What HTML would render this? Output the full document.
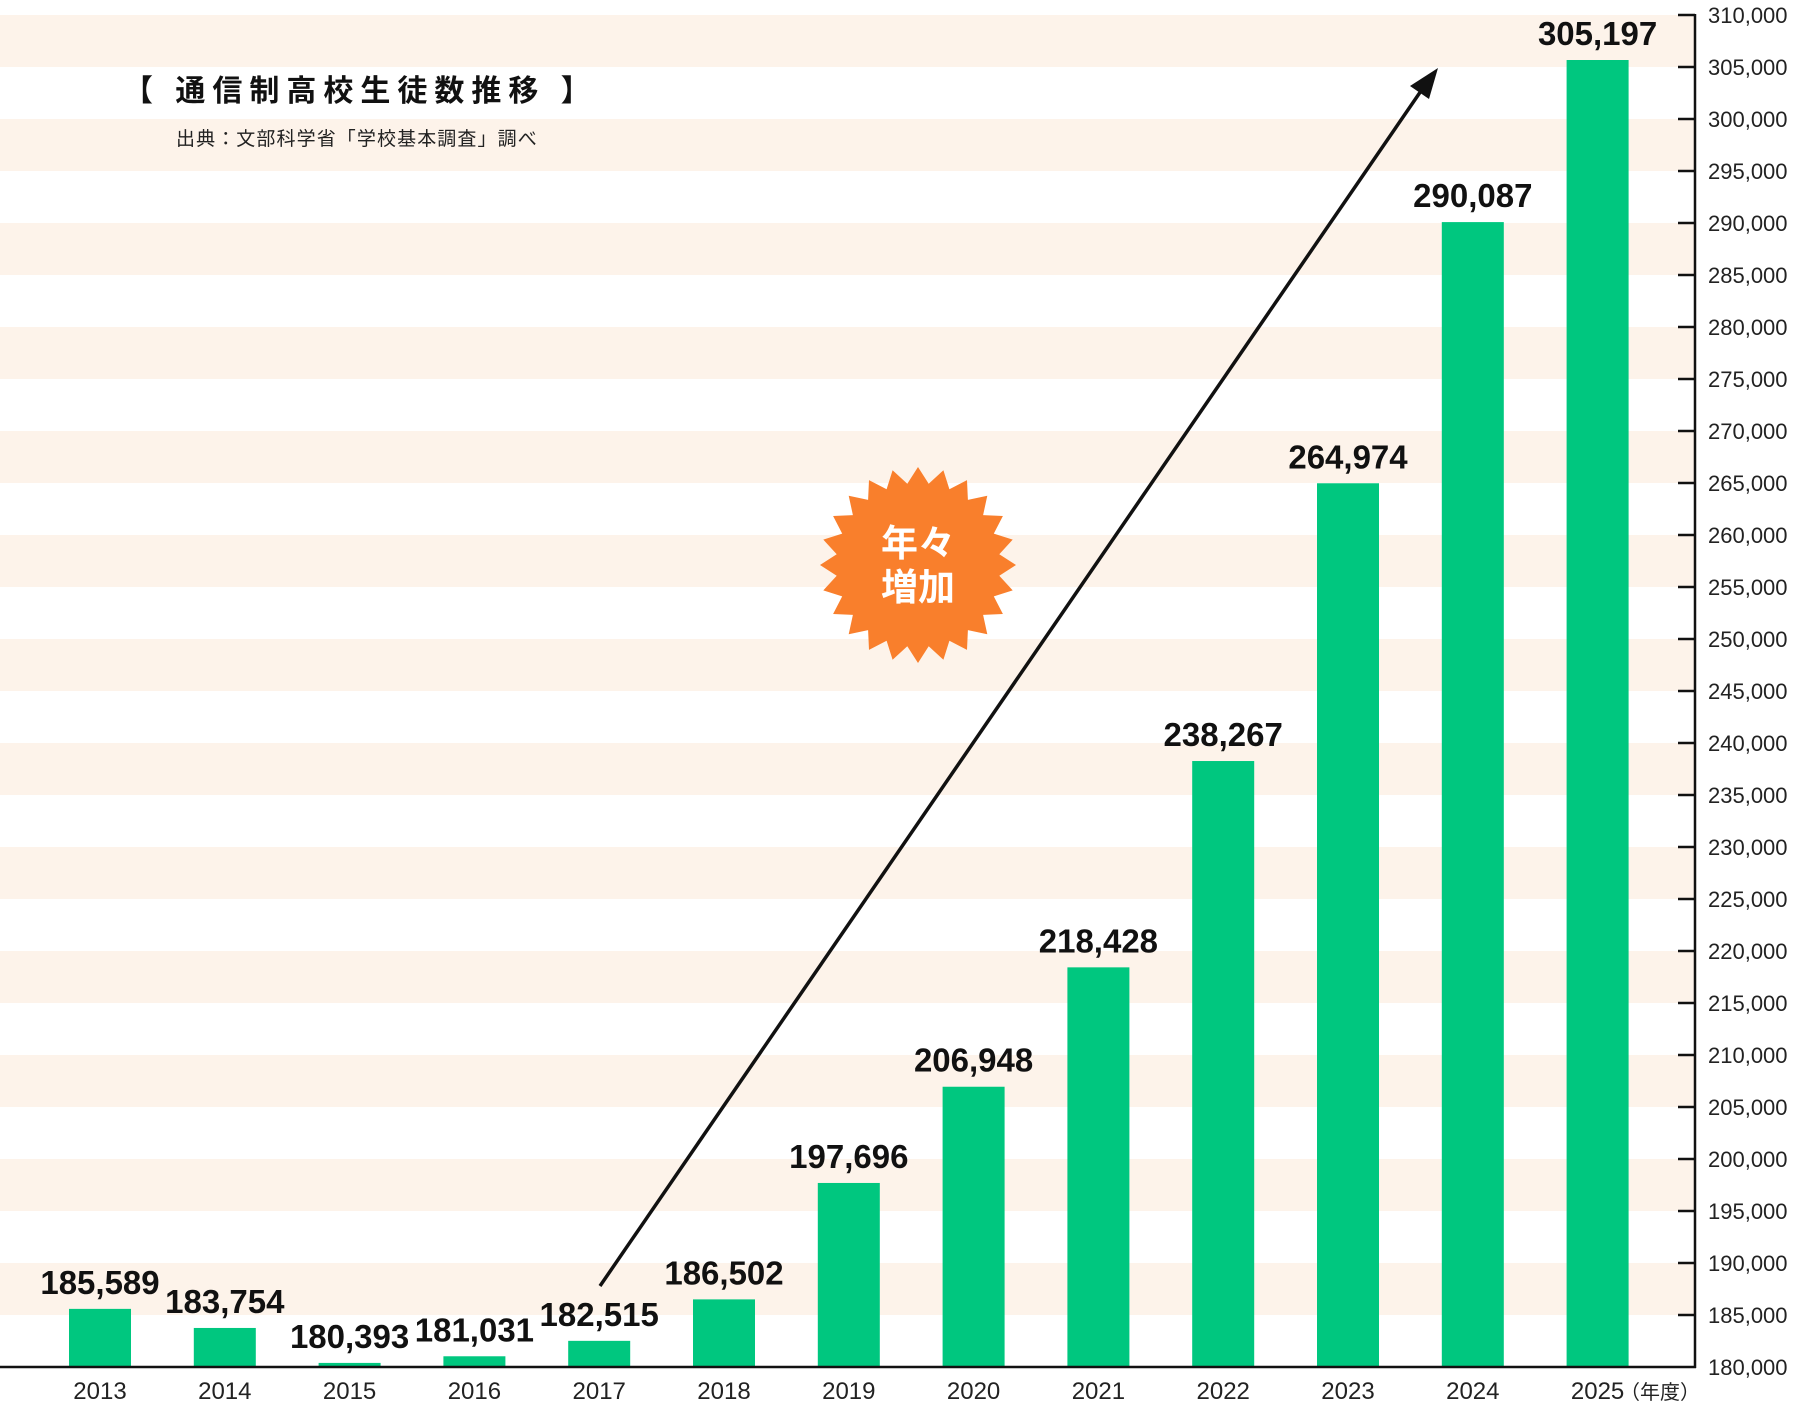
<!DOCTYPE html>
<html><head><meta charset="utf-8"><style>
html,body{margin:0;padding:0;background:#fff;}
svg{display:block;}
</style></head><body>
<svg id="c" width="1800" height="1410" viewBox="0 0 1800 1410" xmlns="http://www.w3.org/2000/svg">
<g id="bands" fill="#fdf3ea"></g>
<g id="bars" fill="#00c77f"></g>
<g id="labels" font-family="'Liberation Sans',sans-serif" font-weight="bold" font-size="33" fill="#111" text-anchor="middle"></g>
<g id="xl" font-family="'Liberation Sans',sans-serif" font-size="24" fill="#222" text-anchor="middle"></g>
<g id="yt" stroke="#111" stroke-width="2.5"></g>
<g id="yl" font-family="'Liberation Sans',sans-serif" font-size="22" fill="#222"></g>
<line x1="0" y1="1367" x2="1696" y2="1367" stroke="#111" stroke-width="2.5"/>
<line x1="1695" y1="14" x2="1695" y2="1368" stroke="#111" stroke-width="2.5"/>
<text x="1700" y="1399" font-family="'Liberation Sans','Noto Sans CJK JP',sans-serif" font-size="20" fill="#222" text-anchor="end">（年度）</text>
<text x="123" y="101" font-family="'Liberation Sans','Noto Sans CJK JP',sans-serif" font-weight="bold" font-size="30" letter-spacing="7" fill="#111">【 通信制高校生徒数推移 】</text>
<text x="176" y="145" font-family="'Liberation Sans','Noto Sans CJK JP',sans-serif" font-size="19" letter-spacing="1.1" fill="#222">出典：文部科学省「学校基本調査」調べ</text>
<line x1="600" y1="1286" x2="1423" y2="88" stroke="#111" stroke-width="3.5"/>
<polygon points="1438,68 1410,86 1429,99" fill="#111"/>
<polygon id="star" fill="#f97f2c"></polygon>
<text x="918" y="556" font-family="'Noto Sans CJK JP',sans-serif" font-weight="bold" font-size="37" fill="#fff" text-anchor="middle">年々</text>
<text x="918" y="600" font-family="'Noto Sans CJK JP',sans-serif" font-weight="bold" font-size="37" fill="#fff" text-anchor="middle">増加</text>
</svg>
<script>
var NS="http://www.w3.org/2000/svg";
function el(p,t,a,txt){var e=document.createElementNS(NS,t);for(var k in a)e.setAttribute(k,a[k]);if(txt!==undefined)e.textContent=txt;document.getElementById(p).appendChild(e);return e;}
var y0=1367,per=52.0;
function Y(v){return y0-(v-180000)/5000*per;}
for(var v=185000;v<310000;v+=10000){el("bands","rect",{x:0,y:Y(v+5000),width:1695,height:per});}
for(var v=180000;v<=310000;v+=5000){var y=Y(v);
 if(v>180000)el("yt","line",{x1:1678,y1:y,x2:1695,y2:y});
 el("yl","text",{x:1708,y:y+8},v.toLocaleString("en-US"));}
var d=[185589,183754,180393,181031,182515,186502,197696,206948,218428,238267,264974,290087,305197];
for(var i=0;i<13;i++){var cx=100+i*124.8;var t=Y(d[i]);if(i==12)t=60;
 el("bars","rect",{x:cx-31,y:t,width:62,height:y0-t});
 el("labels","text",{x:cx,y:t-15},d[i].toLocaleString("en-US"));
 el("xl","text",{x:cx,y:1399},String(2013+i));}
var pts=[],n=24,cx=918,cy=565;
for(var i=0;i<2*n;i++){var r=i%2?82:98;var a=Math.PI*i/n-Math.PI/2;pts.push((cx+r*Math.cos(a)).toFixed(1)+","+(cy+r*Math.sin(a)).toFixed(1));}
document.getElementById("star").setAttribute("points",pts.join(" "));
</script>
</body></html>
